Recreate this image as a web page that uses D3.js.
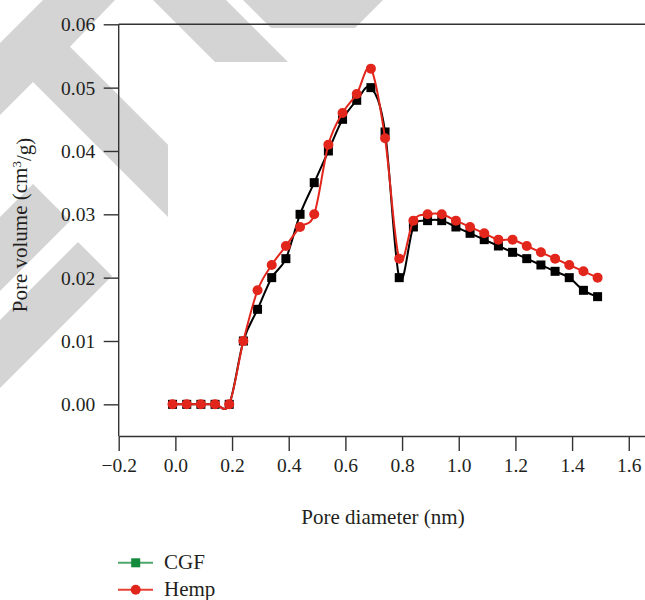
<!DOCTYPE html>
<html>
<head>
<meta charset="utf-8">
<script src="https://cdn.jsdelivr.net/npm/d3@7"></script>
<style>
  body { margin: 0; background: #fff; }
  svg { display: block; }
  text { font-family: "Liberation Serif", "Times New Roman", "DejaVu Serif", serif; fill: #231f20; }
</style>
</head>
<body>
<svg id="chart" width="645" height="600"></svg>
<script>
// Pore size distribution (pore volume vs. pore diameter)
const diameters = [-0.01, 0.04, 0.09, 0.14, 0.19, 0.24, 0.29, 0.34, 0.39, 0.44,
                   0.49, 0.54, 0.59, 0.64, 0.69, 0.74, 0.79, 0.84, 0.89, 0.94,
                   0.99, 1.04, 1.09, 1.14, 1.19, 1.24, 1.29, 1.34, 1.39, 1.44, 1.49];
const cgfVolume = [0, 0, 0, 0, 0, 0.010, 0.015, 0.020, 0.023, 0.030,
                   0.035, 0.040, 0.045, 0.048, 0.050, 0.043, 0.020, 0.028, 0.029, 0.029,
                   0.028, 0.027, 0.026, 0.025, 0.024, 0.023, 0.022, 0.021, 0.020, 0.018, 0.017];
const hempVolume = [0, 0, 0, 0, 0, 0.010, 0.018, 0.022, 0.025, 0.028,
                    0.030, 0.041, 0.046, 0.049, 0.053, 0.042, 0.023, 0.029, 0.030, 0.030,
                    0.029, 0.028, 0.027, 0.026, 0.026, 0.025, 0.024, 0.023, 0.022, 0.021, 0.020];
const xTickValues = [-0.2, 0.0, 0.2, 0.4, 0.6, 0.8, 1.0, 1.2, 1.4, 1.6];
const yTickValues = [0.00, 0.01, 0.02, 0.03, 0.04, 0.05, 0.06];
const seriesNames = ["CGF", "Hemp"];

const svg = d3.select("#chart");
const serif = '"Liberation Serif", "Times New Roman", "DejaVu Serif", serif';

// light grey background chevrons
const backdrop = [
  [[43, 0], [115, 0], [70, 46.7], [168, 144.7], [168, 217], [33, 82], [0, 115], [0, 43]],
  [[153, 0], [226, 0], [288, 62], [215, 62]],
  [[243, 0], [383, 0], [355, 28], [271, 28]],
  [[33, 184], [70, 221], [0, 291], [0, 217]],
  [[78, 242], [112, 276], [0, 388], [0, 320]]
];
svg.append("g").selectAll("path").data(backdrop).join("path")
  .attr("d", d => "M" + d.map(p => p.join(",")).join("L") + "Z")
  .attr("fill", "#d4d4d4");

const x = d3.scaleLinear().domain([-0.2, 1.7]).range([118.7, 657.1]);
const y = d3.scaleLinear().domain([-0.005, 0.06]).range([436, 24.3]);

const axisColor = "#333";
const fontSize = 19.5;

// left axis
const yAxis = svg.append("g")
  .attr("transform", `translate(${x(-0.2)},0)`)
  .call(d3.axisLeft(y).tickValues(yTickValues).tickFormat(d3.format(".2f")).tickSize(15).tickSizeOuter(0));
yAxis.select(".domain").remove();
yAxis.append("line").attr("x1", 0).attr("x2", 0).attr("y1", y(0.06)).attr("y2", y(-0.005))
  .attr("stroke", axisColor).attr("stroke-width", 1.4);
yAxis.selectAll(".tick line").attr("stroke", axisColor).attr("stroke-width", 1.4);
yAxis.selectAll(".tick text").attr("x", -23.5).attr("dy", "0.33em")
  .style("font-size", fontSize + "px").style("font-family", serif).attr("fill", "#231f20");

// top frame line at 0.06
svg.append("line").attr("x1", x(-0.2)).attr("x2", 645).attr("y1", y(0.06)).attr("y2", y(0.06))
  .attr("stroke", axisColor).attr("stroke-width", 1.4);

// bottom axis
const xAxis = svg.append("g")
  .attr("transform", `translate(0,${y(-0.005)})`)
  .call(d3.axisBottom(x).tickValues(xTickValues)
    .tickFormat(d => (d < 0 ? "\u2212" : "") + Math.abs(d).toFixed(1)).tickSize(15).tickSizeOuter(0));
xAxis.select(".domain").attr("stroke", axisColor).attr("stroke-width", 1.4);
xAxis.selectAll(".tick line").attr("stroke", axisColor).attr("stroke-width", 1.4);
xAxis.selectAll(".tick text").attr("y", 22).attr("dy", "0.71em")
  .style("font-size", fontSize + "px").style("font-family", serif).attr("fill", "#231f20");

// axis titles
svg.append("text").attr("x", 383).attr("y", 523.5).attr("text-anchor", "middle")
  .style("font-size", "21px").text("Pore diameter (nm)");

const yTitle = svg.append("text")
  .attr("transform", "translate(27,225) rotate(-90)")
  .attr("text-anchor", "middle").style("font-size", "21px");
yTitle.append("tspan").text("Pore volume (cm");
yTitle.append("tspan").attr("dy", "-0.45em").style("font-size", "13px").text("3");
yTitle.append("tspan").attr("dy", "0.45em").text("/g)");

// series
const pointsCgf = diameters.map((d, i) => [d, cgfVolume[i]]);
const pointsHemp = diameters.map((d, i) => [d, hempVolume[i]]);

const line = d3.line().x(d => x(d[0])).y(d => y(d[1])).curve(d3.curveCardinal.tension(0));

svg.append("path").datum(pointsCgf).attr("d", line)
  .attr("fill", "none").attr("stroke", "#000").attr("stroke-width", 2);
svg.append("g").selectAll("rect").data(pointsCgf).join("rect")
  .attr("x", d => x(d[0]) - 4.5).attr("y", d => y(d[1]) - 4.5)
  .attr("width", 9).attr("height", 9).attr("fill", "#000");

svg.append("path").datum(pointsHemp).attr("d", line)
  .attr("fill", "none").attr("stroke", "#e2261c").attr("stroke-width", 2);
svg.append("g").selectAll("circle").data(pointsHemp).join("circle")
  .attr("cx", d => x(d[0])).attr("cy", d => y(d[1])).attr("r", 5).attr("fill", "#e2261c");

// legend
const legend = svg.append("g");
const legendRows = [
  { name: seriesNames[0], y: 562.8, line: "#4ea86a", fill: "#148a3d", shape: "square" },
  { name: seriesNames[1], y: 589.8, line: "#e64234", fill: "#e0261c", shape: "circle" }
];
legendRows.forEach(r => {
  legend.append("line").attr("x1", 118).attr("x2", 153).attr("y1", r.y).attr("y2", r.y)
    .attr("stroke", r.line).attr("stroke-width", 2);
  if (r.shape === "square") {
    legend.append("rect").attr("x", 131.2).attr("y", r.y - 4.5).attr("width", 9).attr("height", 9).attr("fill", r.fill);
  } else {
    legend.append("circle").attr("cx", 135.7).attr("cy", r.y).attr("r", 5).attr("fill", r.fill);
  }
  legend.append("text").attr("x", 164).attr("y", r.y + 5.8).style("font-size", "21px").text(r.name);
});
</script>
</body>
</html>
